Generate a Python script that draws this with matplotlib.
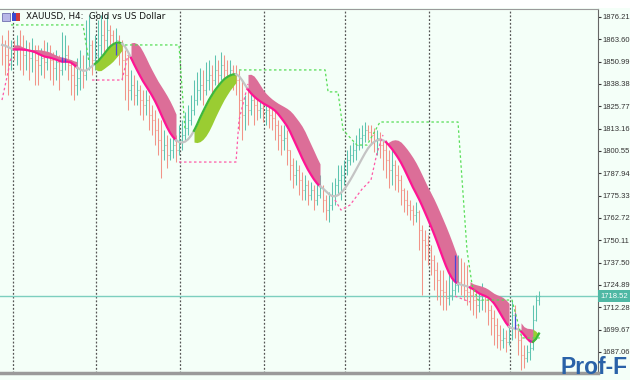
import numpy as np
import matplotlib
matplotlib.use('Agg')
import matplotlib.pyplot as plt
from matplotlib.patches import Rectangle
from matplotlib.transforms import blended_transform_factory

# XAUUSD H4 bars
closes = [1860.4, 1854.7, 1851.9, 1857.6, 1857.6, 1860.4, 1858.7, 1854.7, 1857.6, 1853.0,
          1856.4, 1851.9, 1849.1, 1853.0, 1850.8, 1854.7, 1851.9, 1847.4, 1850.8, 1846.3,
          1851.9, 1854.7, 1849.1, 1843.4, 1837.8, 1841.7, 1846.3, 1843.4, 1854.7, 1860.4,
          1851.9, 1854.7, 1860.4, 1866.0, 1863.2, 1868.9, 1866.0, 1860.4, 1863.2, 1857.6,
          1851.9, 1843.4, 1835.0, 1837.8, 1832.1, 1835.0, 1829.3, 1826.5, 1829.3, 1820.9,
          1818.0, 1812.4, 1806.7, 1801.1, 1803.9, 1798.3, 1801.1, 1803.9, 1801.1, 1806.7,
          1809.6, 1813.5, 1818.0, 1823.7, 1829.3, 1835.0, 1837.8, 1835.0, 1840.6, 1843.4,
          1840.6, 1846.3, 1843.4, 1849.1, 1846.3, 1843.4, 1846.3, 1843.4, 1840.6, 1829.3,
          1820.9, 1826.5, 1823.7, 1829.3, 1826.5, 1823.7, 1824.8, 1822.6, 1823.7, 1820.9,
          1819.2, 1815.2, 1809.6, 1806.7, 1807.9, 1801.1, 1792.6, 1787.0, 1789.8, 1784.2,
          1778.5, 1781.3, 1775.7, 1778.5, 1772.9, 1775.7, 1779.6, 1772.9, 1767.2, 1770.0,
          1775.7, 1781.3, 1784.2, 1787.0, 1789.8, 1795.5, 1798.3, 1801.1, 1803.9, 1807.9,
          1809.6, 1812.4, 1811.3, 1809.6, 1806.7, 1807.9, 1803.9, 1801.1, 1795.5, 1789.8,
          1792.6, 1787.0, 1784.2, 1778.5, 1772.9, 1770.0, 1767.2, 1764.4, 1766.1, 1755.9,
          1750.3, 1747.5, 1744.6, 1739.0, 1733.3, 1727.7, 1722.0, 1720.9, 1717.5, 1719.2,
          1722.0, 1724.9, 1726.6, 1724.9, 1722.0, 1720.9, 1719.2, 1716.4, 1713.6, 1716.4,
          1719.2, 1716.4, 1710.7, 1706.2, 1702.3, 1696.6, 1693.8, 1694.9, 1692.7, 1696.6,
          1707.9, 1702.3, 1693.8, 1685.3, 1683.6, 1687.0, 1689.3, 1705.1, 1716.4, 1718.52]

highs = [1866.0, 1863.2, 1868.9, 1863.2, 1863.2, 1866.0, 1868.9, 1866.0, 1863.2, 1862.1,
         1864.3, 1860.4, 1860.4, 1858.7, 1863.2, 1862.1, 1860.4, 1856.4, 1857.6, 1854.7,
         1867.7, 1866.0, 1860.4, 1851.9, 1849.1, 1853.0, 1857.6, 1854.7, 1874.5, 1877.3,
         1863.2, 1866.0, 1874.5, 1877.3, 1874.5, 1877.3, 1871.7, 1868.9, 1870.0, 1866.0,
         1863.2, 1857.6, 1854.7, 1846.3, 1843.4, 1840.6, 1837.8, 1835.0, 1835.0, 1832.1,
         1826.5, 1823.7, 1819.2, 1818.0, 1812.4, 1809.6, 1807.9, 1812.4, 1809.6, 1815.2,
         1818.0, 1822.6, 1826.5, 1832.1, 1840.6, 1845.1, 1847.4, 1846.3, 1850.8, 1851.9,
         1849.1, 1854.7, 1851.9, 1856.4, 1854.7, 1851.9, 1851.9, 1849.1, 1849.1, 1846.3,
         1840.6, 1832.1, 1835.0, 1837.8, 1833.9, 1830.5, 1832.1, 1829.3, 1829.3, 1826.5,
         1826.5, 1823.7, 1818.0, 1815.2, 1815.2, 1812.4, 1801.1, 1796.6, 1795.5, 1792.6,
         1788.7, 1787.0, 1784.2, 1783.0, 1781.3, 1785.3, 1787.0, 1781.3, 1775.7, 1777.4,
         1783.0, 1785.3, 1792.6, 1792.6, 1795.5, 1801.1, 1803.9, 1805.6, 1809.6, 1813.5,
         1815.2, 1816.9, 1815.2, 1815.2, 1813.5, 1812.4, 1811.3, 1806.7, 1806.7, 1801.1,
         1801.1, 1795.5, 1792.6, 1787.0, 1779.6, 1778.5, 1772.9, 1770.0, 1771.7, 1767.2,
         1758.7, 1755.9, 1753.1, 1747.5, 1741.8, 1737.8, 1733.3, 1733.3, 1727.7, 1736.2,
         1740.1, 1741.8, 1741.8, 1740.1, 1737.8, 1736.2, 1724.9, 1723.2, 1722.0, 1723.2,
         1726.0, 1723.2, 1719.2, 1713.6, 1710.7, 1706.2, 1702.3, 1700.6, 1699.5, 1702.3,
         1716.4, 1713.6, 1702.3, 1696.6, 1691.0, 1691.0, 1693.8, 1713.6, 1719.2, 1721.5]

lows = [1849.1, 1843.4, 1832.1, 1846.3, 1851.9, 1849.1, 1846.3, 1843.4, 1846.3, 1840.6,
        1845.1, 1837.8, 1837.8, 1843.4, 1841.7, 1846.3, 1840.6, 1837.8, 1840.6, 1835.0,
        1843.4, 1846.3, 1840.6, 1832.1, 1829.3, 1832.1, 1835.0, 1836.1, 1840.6, 1846.3,
        1843.4, 1846.3, 1851.9, 1854.7, 1854.7, 1857.6, 1854.7, 1851.9, 1854.7, 1849.1,
        1840.6, 1829.3, 1823.7, 1829.3, 1826.5, 1826.5, 1820.9, 1818.0, 1820.9, 1812.4,
        1809.6, 1803.9, 1798.3, 1785.3, 1795.5, 1790.9, 1795.5, 1796.6, 1794.3, 1798.3,
        1801.1, 1806.7, 1809.6, 1815.2, 1820.9, 1826.5, 1829.3, 1826.5, 1832.1, 1835.0,
        1823.7, 1837.8, 1835.0, 1840.6, 1837.8, 1833.9, 1837.8, 1835.0, 1832.1, 1812.4,
        1806.7, 1812.4, 1815.2, 1820.9, 1815.2, 1818.0, 1819.2, 1816.9, 1815.2, 1813.5,
        1812.4, 1806.7, 1801.1, 1798.3, 1801.1, 1792.6, 1784.2, 1779.6, 1781.3, 1775.7,
        1772.9, 1772.9, 1770.0, 1772.9, 1767.2, 1770.0, 1774.0, 1766.1, 1761.6, 1760.4,
        1767.2, 1770.0, 1775.7, 1772.9, 1781.3, 1787.0, 1792.6, 1794.3, 1795.5, 1801.1,
        1802.2, 1805.6, 1806.7, 1803.9, 1800.0, 1798.3, 1796.6, 1789.8, 1785.3, 1779.6,
        1781.3, 1778.5, 1777.4, 1770.0, 1766.1, 1764.4, 1761.6, 1758.7, 1760.4, 1744.6,
        1719.2, 1739.0, 1736.2, 1730.5, 1722.0, 1716.4, 1713.6, 1710.7, 1710.7, 1713.6,
        1716.4, 1719.2, 1720.9, 1719.2, 1716.4, 1713.6, 1710.7, 1707.9, 1706.2, 1709.6,
        1710.7, 1709.6, 1702.3, 1696.6, 1691.0, 1689.3, 1688.2, 1689.3, 1687.0, 1691.0,
        1693.8, 1694.9, 1685.3, 1676.9, 1678.0, 1681.4, 1682.5, 1688.2, 1704.6, 1713.6]

# bars painted blue by the indicator (inside the ribbon)
blue_bars = [20, 21, 38, 56, 114, 143, 151, 171, 176]

# trend state of the ribbon: first bar of each stretch
trend_start = [0, 4, 25, 31, 40, 43, 58, 64, 78, 82, 106, 128, 152, 156, 169, 173, 177]
trend_state = ['flat', 'down', 'flat', 'up', 'flat', 'down', 'flat', 'up', 'flat',
               'down', 'flat', 'down', 'flat', 'down', 'flat', 'down', 'up']

# dotted stop lines (bar, level); None breaks the line
upper_stop_bar = [3, 27, 29, None, 41, 59, 61, None, 79, 107.7, 108.7, 112, 113.7, 118.3,
                  121.7, 126, 152, 155, 156.7, 158.7, 170, 173.3, 179.3]
upper_stop_val = [1871.7, 1871.7, 1850.8, None, 1860.4, 1860.4, 1812.4, None, 1846.3,
                  1846.3, 1833.9, 1833.9, 1812.4, 1803.9, 1803.9, 1816.9, 1816.9, 1744.6,
                  1724.9, 1716.4, 1716.4, 1695.0, 1695.0]
lower_stop_bar = [0, 3, None, 30, 40, 42, None, 59, 78, 79, 82, None, 111, 113, 116, 120,
                  123, 125, 127, None, 151, 156]
lower_stop_val = [1829.3, 1853.0, None, 1840.6, 1840.6, 1854.7, None, 1794.3, 1794.3,
                  1818.0, 1838.4, None, 1772.9, 1767.2, 1770.0, 1779.0, 1784.2, 1799.4,
                  1809.6, None, 1718.6, 1715.3]

sep_bars = [4, 32, 60, 88, 115, 143, 170]
price_ticks = [1876.21, 1863.60, 1850.99, 1838.38, 1825.77, 1813.16, 1800.55, 1787.94,
               1775.33, 1762.72, 1750.11, 1737.50, 1724.89, 1712.28, 1699.67, 1687.06]
last_price = 1718.52

bg = '#f4fff8'
up_col = '#5ec4b0'
dn_col = '#f29488'
lab_font = 'Liberation Sans'

c = np.array(closes)
h = np.array(highs)
l = np.array(lows)
o = np.concatenate([[c[0]], c[:-1]])
h = np.maximum(h, np.maximum(o, c))
l = np.minimum(l, np.minimum(o, c))
n = len(c)
idx = np.arange(n)

fig = plt.figure(figsize=(6.3, 3.8), dpi=100)
fig.patch.set_facecolor(bg)
fig.patches.append(Rectangle((0, 1 - 8 / 380.), 1, 8 / 380., transform=fig.transFigure,
                             facecolor='white', edgecolor='none', zorder=0))
ax = fig.add_axes([0, 7 / 380., 598 / 630., 364 / 380.])
ax.set_facecolor(bg)
ax.set_xlim(-0.667, 198.67)
ax.set_ylim(1675.2, 1880.7)

# period separators
for s in sep_bars:
    ax.axvline(s - 0.5, color='#555555', lw=0.9, ls=(0, (1.5, 1.5)), zorder=1)

ax.axhline(last_price, color='#7ccfbf', lw=1, zorder=1)

# OHLC bars
for i in range(n):
    col = up_col if c[i] > o[i] else dn_col
    ax.vlines(i, l[i], h[i], color=col, lw=0.75, zorder=2)
    ax.hlines(o[i], i - 0.35, i, color=col, lw=0.75, zorder=2)
    ax.hlines(c[i], i, i + 0.35, color=col, lw=0.75, zorder=2)

# smoothed line + ribbon
def ema(x, p):
    a = 2.0 / (p + 1)
    out = np.empty(len(x))
    out[0] = x[0]
    for i in range(1, len(x)):
        out[i] = out[i - 1] + a * (x[i] - out[i - 1])
    return out

ma = ema(ema(ema(c, 4), 4), 4)
lag = 5
ma_lag = np.concatenate([np.full(lag, ma[0]), ma[:-lag]])

bounds = trend_start + [n]
for k, st in enumerate(trend_state):
    a, b = bounds[k], min(bounds[k + 1] + 1, n)
    xs = idx[a:b]
    if st == 'down':
        ax.fill_between(xs, ma[a:b], ma_lag[a:b], color='#dc6e98', lw=0, zorder=3)
        ax.plot(xs, ma[a:b], color='#ff1493', lw=1.6, zorder=4)
    elif st == 'up':
        ax.fill_between(xs, ma[a:b], ma_lag[a:b], color='#9acd32', lw=0, zorder=3)
        ax.plot(xs, ma[a:b], color='#3cb83c', lw=1.6, zorder=4)
    else:
        ax.plot(xs, ma[a:b], color='#c4c4c4', lw=1.6, zorder=4)

# blue bar pieces inside the ribbon
for i in blue_bars:
    lo_r = max(l[i], min(ma[i], ma_lag[i]))
    hi_r = min(h[i], max(ma[i], ma_lag[i]))
    if hi_r > lo_r:
        ax.vlines(i, lo_r, hi_r, color='#4a46d8', lw=0.9, zorder=4.5)

ub = [np.nan if v is None else v for v in upper_stop_bar]
uv = [np.nan if v is None else v for v in upper_stop_val]
lb = [np.nan if v is None else v for v in lower_stop_bar]
lv = [np.nan if v is None else v for v in lower_stop_val]
ax.plot(ub, uv, color='#55dd55', lw=0.9, ls=(0, (2, 2)), zorder=5)
ax.plot(lb, lv, color='#ff5aa8', lw=0.9, ls=(0, (2, 2)), zorder=5)

# axes / labels
ax.set_xticks([])
ax.yaxis.tick_right()
ax.set_yticks(price_ticks)
ax.set_yticklabels(['%.2f' % v for v in price_ticks], family=lab_font)
ax.tick_params(axis='y', labelsize=5.5, length=2.5, width=0.8, pad=0.8, colors='#333333')
ax.spines['left'].set_visible(False)
ax.spines['right'].set_color('#666666')
ax.spines['top'].set_color('#9a9a9a')
ax.spines['bottom'].set_color('#9a9a9a')
ax.spines['bottom'].set_linewidth(2.5)

tr = blended_transform_factory(ax.transAxes, ax.transData)
ax.text(1.004, last_price, '%.2f' % last_price, transform=tr, fontsize=5.5, color='white',
        family=lab_font, va='center', ha='left',
        bbox=dict(boxstyle='square,pad=0.3', facecolor='#4fb8a4', edgecolor='none'),
        zorder=10, clip_on=False)

fig.text(26 / 630., 1 - 17 / 380., 'XAUUSD, H4:  Gold vs US Dollar', fontsize=6.3,
         color='#111111', va='center')
fig.patches.append(Rectangle((2 / 630., 1 - 21 / 380.), 8 / 630., 8 / 380.,
                             transform=fig.transFigure, facecolor='#b8b8e8',
                             edgecolor='#7070b0', lw=0.6))
fig.patches.append(Rectangle((12 / 630., 1 - 21 / 380.), 4 / 630., 8 / 380.,
                             transform=fig.transFigure, facecolor='#3a4ad0',
                             edgecolor='none'))
fig.patches.append(Rectangle((16 / 630., 1 - 21 / 380.), 4 / 630., 8 / 380.,
                             transform=fig.transFigure, facecolor='#d03a3a',
                             edgecolor='none'))

fig.text(561 / 630., 1 / 380., 'Prof-F', fontsize=16.5, fontweight='bold',
         family=lab_font, color='#2a62a8', va='bottom', ha='left', zorder=20)

fig.savefig('out.png', dpi=100, facecolor=fig.get_facecolor())
